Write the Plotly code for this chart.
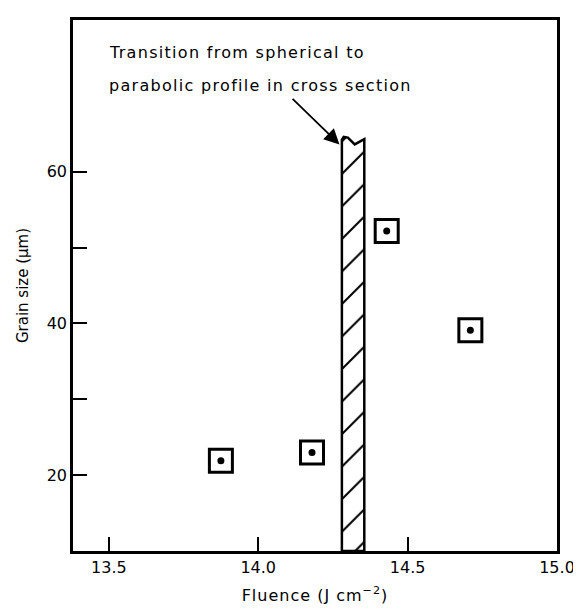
import plotly.graph_objects as go

# Data
fluence = [13.875, 14.18, 14.43, 14.71]
grain_size = [21.9, 23.0, 52.2, 39.1]

# Transition band outline (fluence, grain size)
band_x = [14.28, 14.28, 14.286, 14.30, 14.323, 14.355, 14.355, 14.28]
band_y = [10.0, 64.2, 64.6, 64.5, 63.6, 64.3, 10.0, 10.0]

x_tick_vals = [13.5, 14.0, 14.5, 15.0]
x_tick_text = ["13.5", "14.0", "14.5", "15.0"]
y_tick_vals = [20, 40, 60]
y_tick_text = ["20", "40", "60"]
y_minor_vals = [30, 50]

note_line1 = "Transition from spherical to"
note_line2 = "parabolic profile in cross section"
arrow_tip = (14.272, 63.6)
arrow_tail = (14.11, 69.8)

FONT = "DejaVu Sans"


def spaced(s, px):
    return f'<span style="letter-spacing:{px}px">{s}</span>'


fig = go.Figure()

fig.add_trace(go.Scatter(
    x=band_x, y=band_y, mode="lines", fill="toself",
    line=dict(color="black", width=2.5),
    fillcolor="white",
    fillpattern=dict(shape="/", size=23, solidity=0.09, fgcolor="black",
                     fgopacity=1, bgcolor="white"),
    hoverinfo="skip", showlegend=False,
))

fig.add_trace(go.Scatter(
    x=fluence, y=grain_size, mode="markers",
    marker=dict(symbol="square-open", size=23, color="black", line=dict(width=3, color="black")),
    showlegend=False,
))
fig.add_trace(go.Scatter(
    x=fluence, y=grain_size, mode="markers",
    marker=dict(symbol="circle", size=7, color="black"),
    showlegend=False,
))

fig.add_annotation(x=13.495, y=0.938, xref="x", yref="paper", text=spaced(note_line1, 1.3),
                   showarrow=False, xanchor="left", yanchor="middle",
                   font=dict(family=FONT, size=16, color="black"))
fig.add_annotation(x=13.495, y=0.876, xref="x", yref="paper", text=spaced(note_line2, 1.3),
                   showarrow=False, xanchor="left", yanchor="middle",
                   font=dict(family=FONT, size=16, color="black"))
fig.add_annotation(x=arrow_tip[0], y=arrow_tip[1], ax=arrow_tail[0], ay=arrow_tail[1],
                   xref="x", yref="y", axref="x", ayref="y", text="",
                   showarrow=True, arrowhead=2, arrowsize=1.7, arrowwidth=1.8,
                   arrowcolor="black")

fig.update_layout(
    width=581, height=610,
    margin=dict(l=65, r=32, t=9, b=67),
    paper_bgcolor="white", plot_bgcolor="white",
    font=dict(family=FONT, size=16, color="black"),
    showlegend=False,
)
fig.update_xaxes(
    range=[13.38, 15.0], tickvals=x_tick_vals, ticktext=x_tick_text,
    ticks="inside", ticklen=14, tickwidth=2, tickcolor="black",
    showline=True, linewidth=2.5, linecolor="black", mirror=True,
    showgrid=False, zeroline=False,
    tickfont=dict(family=FONT, size=16),
    title=dict(text=spaced("Fluence (J cm<sup>−2</sup>)", 1.0), font=dict(family=FONT, size=16), standoff=14),
)
fig.update_yaxes(
    range=[10, 80], tickvals=y_tick_vals, ticktext=y_tick_text,
    ticks="inside", ticklen=14, tickwidth=2, tickcolor="black",
    minor=dict(tickvals=y_minor_vals, ticks="inside", ticklen=14, tickwidth=2, tickcolor="black", showgrid=False),
    showline=True, linewidth=2.5, linecolor="black", mirror=True,
    showgrid=False, zeroline=False,
    tickfont=dict(family=FONT, size=16),
    title=dict(text="Grain size (μm)", font=dict(family=FONT, size=15), standoff=15),
)

fig.write_html("out.html")
